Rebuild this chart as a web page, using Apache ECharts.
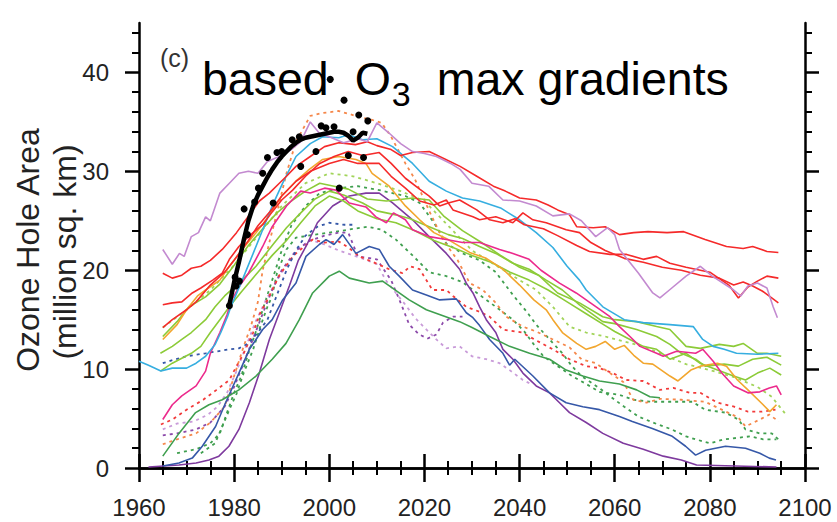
<!DOCTYPE html>
<html>
<head>
<meta charset="utf-8">
<title>Ozone Hole Area - based O3 max gradients</title>
<script src="https://cdn.jsdelivr.net/npm/echarts@6/dist/echarts.min.js"></script>
</head>
<body style="margin:0">
<div id="container" style="width:837px;height:522px"></div>
<script>
// model runs, [year, area in million sq. km]
var violetSolid = [[1965,22.1],[1967,20.6],[1968.5,21.7],[1969.5,21.4],[1971,23.4],[1972.5,23.8],[1974,25.4],[1975,25.0],[1977,27.8],[1979,28.8],[1981,29.8],[1983,30.0],[1985,29.8],[1987,31.0],[1989.5,31.5],[1992,32.2],[1994,33.0],[1996,35.0],[1998,33.8],[2000,33.5],[2003,32.9],[2006,33.3],[2008,33.0],[2010,34.9],[2012.5,33.9],[2015,32.8],[2017.5,32.0],[2020,31.8],[2022.5,31.5],[2025.5,30.8],[2027.5,30.2],[2030,28.8],[2033.5,28.5],[2036.5,27.1],[2040,27.0],[2043.5,26.5],[2047,25.5],[2050.5,25.7],[2053,25.0],[2056,23.4],[2058.5,24.3],[2060,23.6],[2061,22.1],[2065,19.7],[2068,17.7],[2069.5,17.2],[2071.5,18.0],[2075,19.4],[2078,20.4],[2080.5,19.4],[2085,18.0],[2086.5,17.4],[2088,18.4],[2090,18.7],[2092,18.2],[2093.3,16.3],[2094.2,15.2]];
var redSolidA = [[1965,19.7],[1967,19.2],[1969,19.5],[1971,20.2],[1973,20.4],[1975,21.0],[1977.5,22.1],[1979.3,23.1],[1980.5,23.8],[1982,24.8],[1983.2,25.6],[1985.3,27.0],[1987.4,27.8],[1989.5,28.8],[1991,29.5],[1993,30.5],[1996,31.5],[1999,32.5],[2002,32.9],[2005.5,32.7],[2008,33.0],[2010,32.6],[2013,32.2],[2015,31.6],[2017.5,31.9],[2021,32.0],[2024.5,31.2],[2027.5,30.5],[2031,29.5],[2034.5,28.5],[2037,28.0],[2040,27.3],[2043.5,27.1],[2046,26.6],[2048,26.1],[2050.5,25.6],[2052,24.4],[2055.5,24.3],[2058,24.4],[2061,23.6],[2064,23.8],[2067,23.9],[2071,23.8],[2074.5,23.9],[2079,23.1],[2083.5,22.4],[2087,22.2],[2089,22.4],[2092,21.9],[2094.4,21.8]];
var redSolidB = [[1965,16.5],[1967,16.7],[1969,16.8],[1971.2,17.7],[1973,18.2],[1975.5,19.0],[1977.5,19.7],[1979,21.1],[1981,22.4],[1983,23.4],[1986,24.6],[1988,25.9],[1990,27.1],[1992.3,28.1],[1995,29.5],[1998,30.8],[2001,31.5],[2004,32.0],[2007,31.6],[2010.5,31.9],[2013,30.8],[2016,29.3],[2019,28.2],[2021,27.5],[2023.2,26.5],[2025,26.8],[2027.4,27.1],[2031,26.1],[2033.7,25.1],[2036.5,24.8],[2039,25.2],[2041,24.6],[2045,24.2],[2048,23.5],[2052,22.5],[2054.7,21.9],[2059,21.6],[2062.5,21.6],[2066,21.1],[2068.8,21.4],[2071.6,20.7],[2075,20.3],[2080,19.8],[2084,18.5],[2086,17.2],[2088,18.3],[2090,18.9],[2092,19.4],[2094.4,19.2]];
var redSolidC = [[1965,14.2],[1967,15.0],[1970,16.0],[1972,16.8],[1975,18.5],[1978,19.8],[1980,21.0],[1983,23.0],[1985,24.5],[1988,26.2],[1990,27.5],[1993,29.0],[1996,30.0],[2000,30.8],[2003,31.2],[2006,30.8],[2010.5,30.8],[2013,29.5],[2016,28.3],[2019,27.0],[2022,26.6],[2024.6,27.1],[2026,26.1],[2030.2,25.4],[2031.6,25.1],[2035,25.4],[2038.6,24.8],[2040.7,25.8],[2042.8,25.1],[2045.6,24.8],[2049.8,24.1],[2052.6,23.8],[2055,22.8],[2058,22.0],[2062,21.2],[2066,20.8],[2070,20.3],[2074,20.0],[2078,19.5],[2082,19.2],[2085,18.5],[2087,18.8],[2089,18.4],[2091,17.9],[2093,17.2],[2094.4,16.7]];
var cyanSolid = [[1960,10.8],[1962,10.4],[1964.6,9.8],[1967,10.1],[1970,10.1],[1972,10.6],[1974,11.3],[1976,12.5],[1977.2,13.7],[1978.6,15.3],[1979.3,16.3],[1981.7,19.0],[1984,21.7],[1986,24.1],[1988,26.5],[1990.2,28.8],[1993,31.5],[1996,32.8],[1998.6,33.5],[2002,33.4],[2004,33.7],[2007,33.2],[2010,33.3],[2013.3,32.5],[2017.5,30.8],[2021,29.0],[2024.6,28.0],[2028,27.3],[2031.6,27.0],[2036,26.3],[2040,25.1],[2043.5,23.8],[2047,22.3],[2050,20.4],[2052.6,19.0],[2054,18.0],[2057.5,16.3],[2062,15.0],[2066,14.7],[2071.6,14.5],[2076.5,14.3],[2078.5,13.0],[2080.7,12.3],[2083,12.0],[2085.6,11.6],[2090,11.5],[2094.4,11.6]];
var pinkSolid = [[1965,4.9],[1967,6.4],[1969,7.3],[1972,8.3],[1974,9.8],[1975,11.6],[1977,13.7],[1978.5,15.5],[1979.5,17.0],[1981,18.3],[1983,19.7],[1986,22.4],[1988,24.4],[1991,26.5],[1994,28.0],[1996,27.8],[1999,28.3],[2001.4,28.1],[2004.2,26.8],[2007.7,26.4],[2009.8,25.4],[2012,24.8],[2013.5,25.8],[2016,25.1],[2017.5,24.1],[2021,23.4],[2024.6,23.1],[2028,22.8],[2031.6,22.8],[2035.8,22.1],[2038.6,21.7],[2042,21.1],[2044.5,20.0],[2048.4,18.7],[2051.9,17.7],[2056.1,16.3],[2059,15.3],[2061,14.3],[2063.2,13.3],[2065.3,12.3],[2068.8,11.6],[2070.2,11.3],[2073,11.8],[2077,11.6],[2078.5,12.0],[2080.7,10.8],[2082.5,9.6],[2085,8.3],[2088,7.6],[2090.5,7.7],[2092.5,8.1],[2094,8.3],[2095,7.4]];
var orangeSolid = [[1965,13.0],[1968,14.5],[1970,16.0],[1972.3,17.4],[1974,18.0],[1977,19.0],[1979,20.4],[1981.7,22.1],[1984.6,23.8],[1986.7,25.1],[1990,27.5],[1993,29.0],[1995.8,30.2],[1998.6,31.2],[2002,31.5],[2005.6,31.2],[2007.7,30.8],[2009,29.8],[2012.6,28.5],[2016,26.5],[2019,25.1],[2022,23.8],[2025,23.1],[2029.5,21.8],[2033,21.2],[2036.5,20.1],[2040,18.5],[2043,17.0],[2045.6,16.0],[2047,15.0],[2049,13.7],[2052,12.6],[2054,12.0],[2056,12.3],[2058,12.8],[2060,12.0],[2062,12.4],[2064,11.4],[2066,10.6],[2068,10.5],[2069.5,10.0],[2071.6,9.3],[2073.3,8.8],[2076,9.9],[2078,10.3],[2081.6,10.6],[2083.5,10.3],[2085.8,8.9],[2088,7.9],[2091.2,6.4],[2092.6,5.7],[2094,6.4]];
var limeSolidA = [[1965,13.3],[1968,14.8],[1970.5,16.3],[1974,17.3],[1977,18.6],[1980,20.5],[1983,22.5],[1986,24.2],[1989,25.8],[1992,27.0],[1995,28.0],[1998,28.8],[2001,28.5],[2004,28.2],[2008,27.2],[2012,27.0],[2014,27.1],[2017.5,27.3],[2021,27.1],[2024,25.5],[2028,24.0],[2032,22.8],[2036,21.5],[2040,20.3],[2044,19.5],[2048,17.7],[2052.6,16.7],[2057.5,15.3],[2060,15.0],[2064.6,14.8],[2068.8,14.3],[2071.6,14.0],[2075,12.3],[2078,12.1],[2082,12.5],[2085,12.3],[2087,12.6],[2090,11.6],[2092,11.6],[2095,11.3]];
var limeSolidB = [[1964.5,11.6],[1967,12.3],[1969,13.0],[1971,13.7],[1974,15.0],[1976,16.3],[1978,17.4],[1981,18.7],[1984.6,20.4],[1988,22.5],[1991,24.3],[1994,25.8],[1997,27.2],[2000,28.0],[2003,27.6],[2007,26.8],[2010,26.0],[2014,25.6],[2017,25.2],[2021,24.4],[2025,23.6],[2028,23.2],[2031.6,22.4],[2035,21.7],[2038.6,20.7],[2042,20.1],[2045.6,19.0],[2049,18.0],[2052.6,16.5],[2057.5,14.8],[2060,14.6],[2064.6,14.0],[2068.8,13.3],[2071.6,12.5],[2074,11.6],[2077,11.0],[2079,10.3],[2083,10.5],[2086,10.3],[2089,11.0],[2092,11.2],[2095,10.4]];
var limeSolidC = [[1964.5,9.8],[1967,10.6],[1969,11.1],[1971,11.6],[1973,12.3],[1975,13.7],[1977,15.0],[1979,16.3],[1981.5,17.8],[1985,19.8],[1988,21.5],[1991,23.0],[1994,24.8],[1997,26.5],[2000,27.5],[2003,27.0],[2006,26.0],[2010,25.2],[2014,24.8],[2018,24.0],[2022,23.0],[2026,22.3],[2030,21.5],[2034,20.8],[2038,19.8],[2042,19.0],[2046,18.0],[2050,16.8],[2054,15.6],[2058,14.4],[2060,13.8],[2063.2,13.0],[2066,12.3],[2068.8,12.0],[2071.6,11.0],[2075,11.6],[2077.9,10.6],[2081.6,9.9],[2085,9.3],[2087.5,8.9],[2090,9.6],[2092.6,10.1],[2095,9.4]];
var greenSolid = [[1965,1.2],[1968.4,3.5],[1971.9,5.6],[1974.7,6.4],[1977.5,6.9],[1981,7.9],[1984.6,9.3],[1988,11.0],[1990.9,12.6],[1993.7,15.0],[1996.5,17.7],[2000,19.4],[2002.1,19.9],[2004.2,19.2],[2008.4,18.7],[2011.2,18.9],[2013,18.3],[2016.8,17.0],[2020.4,16.0],[2023.9,15.4],[2027.4,14.8],[2030,14.2],[2033.7,13.3],[2037.9,12.3],[2042.1,11.6],[2046.3,11.0],[2049.8,9.9],[2053.3,9.3],[2056.8,8.8],[2061,8.5],[2064.6,7.9],[2067.4,7.2],[2069.5,7.1]];
var blueSolid = [[1965,0.2],[1968.4,0.5],[1971.2,1.0],[1973.3,2.2],[1976.1,4.2],[1978.2,6.6],[1981,9.6],[1983.2,12.0],[1986,14.0],[1988,15.0],[1990.2,17.0],[1993,18.7],[1995.1,21.4],[1997.9,22.6],[1999.3,23.1],[2001,22.6],[2002.8,23.6],[2005.6,21.7],[2008.4,22.4],[2010.5,22.1],[2012.6,20.4],[2014.7,19.4],[2017.5,18.0],[2020.4,17.5],[2023.2,17.0],[2026.7,17.1],[2028.8,15.7],[2030.2,15.2],[2031.6,14.4],[2033.7,13.0],[2036.5,11.6],[2037.9,10.4],[2039,11.0],[2042.8,9.3],[2046.3,7.6],[2049.8,6.6],[2053.3,6.2],[2056.8,5.9],[2061,5.2],[2063.7,4.7],[2067.9,4.0],[2072.1,3.2],[2074.9,2.2],[2077,1.3],[2079.1,1.8],[2083.3,2.2],[2087.5,2.0],[2090.5,1.5],[2092.5,1.0],[2093.9,0.8]];
var purpleSolid = [[1962,0.1],[1968.4,0.3],[1972,0.5],[1974.7,0.8],[1976.8,1.2],[1978.9,2.2],[1981,3.9],[1983.2,6.6],[1985.3,9.6],[1987.4,13.0],[1989.5,15.7],[1991.6,18.4],[1993.5,21.0],[1995.1,22.4],[1997.5,24.8],[2000.7,26.5],[2004.2,27.5],[2007.7,27.8],[2010.5,27.8],[2013.3,26.8],[2017.5,25.1],[2021,23.4],[2024.6,21.7],[2027.4,20.1],[2028.8,18.7],[2030.2,17.7],[2031.6,16.3],[2033,15.0],[2035,13.7],[2036.5,12.0],[2038.6,11.0],[2040.7,9.6],[2043.5,8.3],[2046.3,7.6],[2048.4,6.6],[2050.5,5.6],[2054,4.6],[2057.5,3.5],[2061.8,2.5],[2066,1.9],[2070.2,1.2],[2074,0.8],[2077.2,0.3],[2094,0.1]];
var blueDashed = [[1965,10.6],[1967,10.9],[1970,11.3],[1974,11.6],[1976.5,11.8],[1979,12.0],[1981,12.1],[1983,12.6],[1985,13.7],[1987,15.0],[1989,17.5],[1991,20.0],[1993,22.0],[1995,23.5],[1997.5,24.4],[2000,24.8],[2003,24.6],[2005,24.6]];
var orangeDashed = [[1965,2.4],[1968,2.9],[1972,3.5],[1975,4.6],[1978,6.2],[1980,9.3],[1982,12.3],[1983.5,14.3],[1985,16.8],[1986,20.0],[1987.5,23.0],[1989,25.8],[1991,29.8],[1993,33.0],[1996,35.6],[1998.6,35.9],[2002,36.1],[2005.6,35.6],[2009,35.2],[2011,34.9],[2013,33.5],[2016,30.8],[2018,29.2],[2021,26.0],[2024,23.0],[2027,21.0],[2029.5,18.7],[2032.3,18.0],[2035,16.7],[2037.2,15.3],[2040.7,14.3],[2043.5,13.8],[2047,13.0],[2050.5,12.2],[2053,11.0],[2056,10.6],[2059,9.6],[2061.8,8.7],[2063.9,6.9],[2066.7,6.6],[2069.5,7.0],[2074,6.9],[2079,6.7],[2082.5,5.9],[2086,5.1],[2087.5,4.2],[2090.5,4.9],[2092.5,5.4],[2094.5,4.7]];
var redDashed = [[1964.6,4.4],[1967,4.9],[1970,5.9],[1973.5,6.9],[1976.3,7.9],[1979,8.9],[1980.5,10.3],[1982,11.6],[1984,13.7],[1985.5,15.7],[1987,17.0],[1989.5,19.5],[1992.5,21.5],[1996.5,23.1],[1999,22.8],[2002,22.9],[2004,22.3],[2006.3,21.4],[2009.8,20.7],[2012.6,20.1],[2015.4,19.7],[2017,20.4],[2019,20.1],[2021.7,18.0],[2024.6,18.0],[2026,17.4],[2028.8,16.3],[2031.6,15.8],[2033.7,15.3],[2036.5,14.0],[2040.5,13.7],[2043.5,12.9],[2047,12.0],[2050.5,11.0],[2054,10.3],[2056.8,10.1],[2059.6,9.6],[2062.4,8.9],[2066,8.8],[2069.5,7.9],[2072.3,8.1],[2075.8,7.6],[2078,7.6],[2081.6,6.6],[2085.1,6.2],[2088,5.7],[2091,5.7],[2093.8,5.9]];
var lilacDashed = [[1965,3.9],[1968,4.5],[1971.5,4.7],[1974.5,5.4],[1976.5,6.2],[1978.5,7.6],[1980.5,9.8],[1982.5,12.3],[1984.5,14.8],[1986.5,16.8],[1988.5,18.6],[1990.5,20.1],[1993.5,22.1],[1996,23.1],[1999,22.6],[2002,22.0],[2005,21.5],[2008,21.0],[2010,20.6],[2012,18.9],[2014,17.7],[2016,16.5],[2018,15.2],[2020,14.2],[2022.5,13.0],[2024.6,12.1],[2027.4,12.3],[2030,11.3],[2033,11.0],[2035.8,10.6],[2037.9,9.9],[2040.7,8.9],[2042.8,8.4]];
var purpleDashed = [[1965,3.3],[1968,3.5],[1972,3.9],[1975,4.6],[1978,6.2],[1980,8.2],[1982,10.6],[1984,13.1],[1986,15.6],[1988,18.0],[1990,20.0],[1993,22.0],[1996,23.0],[1999,23.5],[2002,23.8],[2004,23.8],[2006,21.4],[2010,21.1],[2013,19.0],[2015,16.7],[2016.8,14.5],[2018.9,13.5],[2020.7,13.1],[2022.5,13.5],[2023.9,14.7],[2026,15.3],[2028,15.3]];
var greenDashedA = [[1968,1.5],[1972,1.9],[1975,2.5],[1977,3.5],[1978.5,5.6],[1980,7.6],[1981.5,9.3],[1983,11.6],[1984.5,13.7],[1986,16.0],[1988,19.0],[1990,22.0],[1992,24.5],[1995,26.5],[1998,27.8],[2002,28.3],[2006,28.5],[2010.5,28.1],[2016,27.5],[2019,26.8],[2022,24.8],[2024.6,22.7],[2028,21.7],[2031.6,21.0],[2035,19.8],[2038.6,17.5],[2041.5,15.8],[2043.5,14.5],[2046.3,13.0],[2049,11.6],[2051,10.3],[2053,9.3],[2057,8.0],[2060,6.9],[2062,6.2],[2065,5.2],[2068,4.6],[2072,3.9],[2075,3.2],[2077,2.9],[2080,2.5],[2083,2.9],[2088.5,3.2],[2091.2,2.9],[2094,2.9]];
var greenDashedB = [[1973,1.5],[1976,2.5],[1977.5,4.2],[1979,5.9],[1980.5,7.5],[1982,9.6],[1984,12.0],[1985.5,14.3],[1987,16.3],[1988,17.4],[1989,19.7],[1991,22.1],[1993,23.3],[1997,23.6],[2000,23.8],[2004,24.1],[2008,24.4],[2011,24.1],[2014,23.1],[2017.5,21.5],[2021,19.8],[2024.6,19.4],[2028,18.8],[2031.6,17.5],[2035,16.3],[2038.6,15.0],[2041,13.8],[2043,12.5],[2045,11.3],[2048,10.3],[2051,9.3],[2054,8.5],[2056.8,7.7],[2061,7.4],[2064,6.9],[2067.7,6.7],[2072,6.7],[2076.3,6.7],[2079,5.9],[2083.3,5.6],[2086,4.9],[2087.5,3.9],[2090.5,3.5],[2093,3.5],[2094.4,2.9]];
var limeDashed = [[1965,14.2],[1970,16.0],[1975,18.0],[1980,20.5],[1985,23.5],[1990,26.5],[1995,28.8],[2000,29.8],[2005,29.5],[2010,28.8],[2015,28.0],[2020,27.0],[2025,24.5],[2030,22.0],[2035,20.5],[2040,19.0],[2043.5,18.0],[2047,16.3],[2050.5,14.3],[2054,13.7],[2058,13.3],[2062,12.8],[2066,12.3],[2070,11.5],[2075,10.5],[2080,9.9],[2085,9.2],[2090,8.2],[2093,7.2],[2096,5.4]];

// observations: yearly dots and the smoothed curve
var obsDots = [[1979,16.4],[1980.2,19.3],[1980.4,18.4],[1981.1,18.9],[1982.1,26.2],[1982.8,23.6],[1984.3,26.9],[1985.1,28.3],[1986,29.8],[1987,31.4],[1988.2,26.8],[1989,31.9],[1990,32.0],[1992.2,33.2],[1993.7,33.5],[1994,30.5],[1997.2,32.0],[1998.3,34.6],[1999.3,34.4],[2000.2,39.3],[2001,34.5],[2002.1,28.3],[2003.1,37.2],[2004,31.6],[2005,34.0],[2006.2,35.7],[2007.2,31.4],[2008.1,35.1]];
var obsSmooth = [[1979,16.5],[1980,18.8],[1981,20.8],[1982,23.0],[1983,25.0],[1984,26.5],[1985,27.6],[1986,28.5],[1987,29.4],[1988,30.2],[1989,30.9],[1990,31.5],[1991,32.0],[1992,32.5],[1993,32.9],[1994,33.2],[1995,33.4],[1996,33.5],[1997,33.6],[1998,33.7],[1999,33.8],[2000,33.9],[2001,34.0],[2002,34.0],[2003,33.9],[2004,33.6],[2005,33.1],[2006,33.4],[2007,33.9],[2008,33.8]];

var yMajor = [0, 10, 20, 30, 40];
var yMinor = [2, 4, 6, 8, 12, 14, 16, 18, 22, 24, 26, 28, 32, 34, 36, 38, 42, 44];

var FONT = '"Liberation Sans", Arial, Helvetica, sans-serif';
var chart = echarts.init(document.getElementById('container'), null, {renderer: 'svg'});

// title pieces are laid out left to right, so the subscript can sit below the baseline
var meas = document.createElement('canvas').getContext('2d');
function textW(t, size) { meas.font = size + 'px ' + FONT; return meas.measureText(t).width; }
var T_SIZE = 46.5, SUB_SIZE = 34;
var tX0 = 202, tGap = 26;
var xO = tX0 + textW('based', T_SIZE) + tGap;
var x3 = xO + textW('O', T_SIZE) + 1;
var xMax = x3 + textW('3', SUB_SIZE) + tGap;

function label(x, y, txt, size, rot, fill) {
    return {type: 'text', x: x, y: y, rotation: rot || 0, silent: true,
        style: {text: txt, fontSize: size, fontFamily: FONT, fill: fill || '#000',
            align: rot ? 'center' : 'left', verticalAlign: 'middle'}};
}

function run(data, color, dashed) {
    return {
        type: 'line', data: data, symbol: 'none', showSymbol: false, silent: true,
        lineStyle: {color: color, width: dashed ? 1.8 : 1.6, type: dashed ? [3, 4] : 'solid'},
        z: 2
    };
}

function xAx(pos) {
    return {
        type: 'value', position: pos, min: 1960, max: 2100, interval: 20,
        axisLine: {show: true, lineStyle: {color: '#000', width: 2.5}},
        axisTick: {show: true, length: 14, lineStyle: {color: '#000', width: 2.5}},
        minorTick: {show: true, splitNumber: 4, length: 7, lineStyle: {color: '#000', width: 2}},
        axisLabel: {show: pos === 'bottom', fontSize: 24, color: '#222', fontFamily: FONT, margin: 27,
            formatter: function (v) { return String(v); }},
        splitLine: {show: false}, minorSplitLine: {show: false}
    };
}

function yAx(pos, major) {
    return {
        type: 'value', position: pos, min: 0, max: 45, interval: 10,
        axisLine: {show: major, lineStyle: {color: '#000', width: 2.5}},
        axisTick: {show: true, length: major ? 14 : 7, customValues: major ? yMajor : yMinor,
            lineStyle: {color: '#000', width: major ? 2.5 : 2}},
        axisLabel: {show: major && pos === 'left', customValues: yMajor, fontSize: 24, color: '#222',
            fontFamily: FONT, margin: 30},
        splitLine: {show: false}
    };
}

var series = [
    run(limeDashed, '#a2d45a', true),
    run(greenDashedA, '#3f9f4f', true),
    run(greenDashedB, '#3f9f4f', true),
    run(lilacDashed, '#c99bd9', true),
    run(purpleDashed, '#8c4aaa', true),
    run(redDashed, '#f23a3a', true),
    run(orangeDashed, '#f5874a', true),
    run(blueDashed, '#3658a8', true),
    run(purpleSolid, '#7e3a9e', false),
    run(blueSolid, '#3658a8', false),
    run(greenSolid, '#3f9f4f', false),
    run(limeSolidC, '#8ccb38', false),
    run(limeSolidB, '#8ccb38', false),
    run(limeSolidA, '#8ccb38', false),
    run(orangeSolid, '#f2a62e', false),
    run(pinkSolid, '#ec2a8c', false),
    run(cyanSolid, '#36aee0', false),
    run(redSolidC, '#f52a2a', false),
    run(redSolidB, '#f52a2a', false),
    run(redSolidA, '#f52a2a', false),
    run(violetSolid, '#c38ad0', false),
    {type: 'line', data: obsSmooth, symbol: 'none', showSymbol: false, silent: true,
        lineStyle: {color: '#000', width: 4.5}, z: 5},
    {type: 'scatter', data: obsDots, symbol: 'circle', symbolSize: 7, silent: true,
        itemStyle: {color: '#000', opacity: 1}, z: 6}
];

chart.setOption({
    animation: false,
    backgroundColor: '#fff',
    grid: {left: 139, right: 32, top: 23, bottom: 54},
    title: {text: '(c)', left: 160, top: 45, padding: 0,
        textStyle: {fontSize: 25, fontWeight: 'normal', color: '#333', fontFamily: FONT}},
    graphic: [
        label(tX0, 79, 'based', T_SIZE),
        label(xO, 79, 'O', T_SIZE),
        label(x3, 94, '3', SUB_SIZE),
        label(xMax, 79, 'max gradients', T_SIZE),
        label(28, 250, 'Ozone Hole Area', 32, Math.PI / 2, '#222'),
        label(65, 252, '(million sq. km)', 32, Math.PI / 2, '#222')
    ],
    xAxis: [xAx('bottom'), xAx('top')],
    yAxis: [yAx('left', true), yAx('left', false), yAx('right', true), yAx('right', false)],
    series: series
});
</script>
</body>
</html>
